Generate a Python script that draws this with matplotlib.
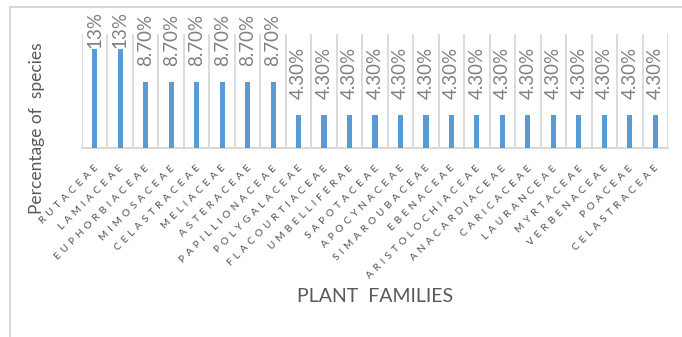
import numpy as np
import matplotlib
matplotlib.use("Agg")
import matplotlib.pyplot as plt
import matplotlib.transforms as mtransforms
from matplotlib.lines import Line2D

# data
families = ["RUTACEAE", "LAMIACEAE", "EUPHORBIACEAE", "MIMOSACEAE", "CELASTRACEAE",
            "MELIACEAE", "ASTERACEAE", "PAPILLIONACEAE", "POLYGALACEAE", "FLACOURTIACEAE",
            "UMBELLIFERAE", "SAPOTACEAE", "APOCYNACEAE", "SIMAROUBACEAE", "EBENACEAE",
            "ARISTOLOCHIACEAE", "ANACARDIACEAE", "CARICACEAE", "LAURANCEAE", "MYRTACEAE",
            "VERBENACEAE", "POACEAE", "CELASTRACEAE"]
percent = [13, 13, 8.7, 8.7, 8.7, 8.7, 8.7, 8.7] + [4.3] * 15
value_labels = ["13%", "13%"] + ["8.70%"] * 6 + ["4.30%"] * 15

plt.rcParams['font.family'] = ['Lato', 'DejaVu Sans']

W, H = 682, 337
fig = plt.figure(figsize=(W / 100, H / 100), dpi=100)
ax = fig.add_axes([82 / W, 1 - 148 / H, (668 - 82) / W, (148 - 34) / H])

x = np.arange(len(families))
ax.bar(x, percent, width=0.2, color='#5b9bd5', zorder=3)
ax.set_xlim(-0.5, len(families) - 0.5)
ax.set_ylim(0, 15)

# vertical grid lines at the category boundaries
for b in np.arange(-0.5, len(families), 1.0):
    ax.axvline(b, color='#d9d9d9', lw=1.3, zorder=1)

for s in ['top', 'right', 'left']:
    ax.spines[s].set_visible(False)
ax.spines['bottom'].set_color('#d9d9d9')
ax.spines['bottom'].set_linewidth(1.5)
ax.set_yticks([])
ax.tick_params(axis='x', length=0)

# letter spaced, 45 degree family names
ax.set_xticks(x)
ax.set_xticklabels([" \u2009".join(f) for f in families], rotation=45, ha='right',
                   va='center', rotation_mode='anchor', fontsize=7.3, color='#505050')
offset = mtransforms.ScaledTranslation(2 / 100, -14 / 100, fig.dpi_scale_trans)
for lab in ax.get_xticklabels():
    lab.set_transform(lab.get_transform() + offset)

# value labels above bars
for xi, v, t in zip(x, percent, value_labels):
    yy = v + 0.2 if v > 12 else v + 2.1
    ax.text(xi, yy, t, rotation=90, ha='center', va='bottom', fontsize=13.5,
            color='#808080', clip_on=False)

fig.text(37 / W, 1 - 128 / H, "Percentage of  species", rotation=90,
         ha='center', va='center', fontsize=12.5, color='#595959')
fig.text(375 / W, 1 - 296 / H, "PLANT  FAMILIES", ha='center', va='center',
         fontsize=14, color='#595959')

# outer chart frame (cropped at right and bottom)
fig.add_artist(Line2D([10 / W, 10 / W], [0, 1 - 7 / H], transform=fig.transFigure,
                      color='#d9d9d9', lw=1.5))
fig.add_artist(Line2D([10 / W, 1], [1 - 7 / H, 1 - 7 / H], transform=fig.transFigure,
                      color='#d9d9d9', lw=1.5))

fig.savefig("out.png", dpi=100)
